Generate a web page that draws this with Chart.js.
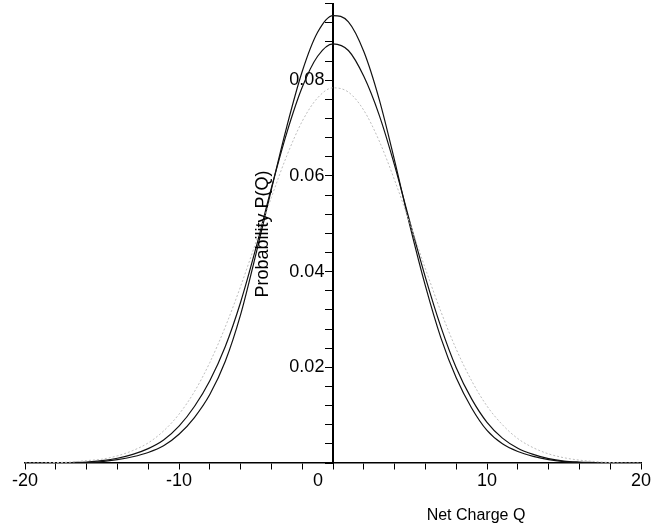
<!DOCTYPE html>
<html>
<head>
<meta charset="utf-8">
<script src="https://cdn.jsdelivr.net/npm/chart.js@4.4.1/dist/chart.umd.min.js"></script>
<style>
  html, body { margin: 0; padding: 0; background: #fff; }
  #wrap { width: 653px; height: 530px; }
</style>
</head>
<body>
<div id="wrap"><canvas id="chart" width="653" height="530"></canvas></div>
<script>
// ── values ───────────────────────────────────────────────────────────────────
const netCharge = [
  -20, -19, -18, -17, -16, -15, -14, -13, -12, -11, -10, -9, -8, -7, -6, -5, -4, -3, -2, -1,
    0,   1,   2,   3,   4,   5,   6,   7,   8,   9,  10, 11, 12, 13, 14, 15, 16, 17, 18, 19, 20,
];
// tallest dark curve
const probNarrow = [
  0, 0, 0, 0, 0.0001, 0.0003, 0.0007, 0.0013, 0.0022, 0.0036, 0.0060, 0.0095, 0.0143, 0.0212, 0.0310, 0.0437, 0.0572, 0.0703, 0.0818, 0.0900,
  0.0935, 0.0922, 0.0860, 0.0760, 0.0632, 0.0495, 0.0370, 0.0262, 0.0178, 0.0115, 0.0068, 0.0040, 0.0024, 0.0014, 0.0007, 0.0003, 0.0001, 0, 0, 0, 0,
];
// second dark curve
const probMid = [
  0, 0, 0, 0.0001, 0.0002, 0.0005, 0.0010, 0.0018, 0.0030, 0.0048, 0.0077, 0.0118, 0.0172, 0.0243, 0.0336, 0.0450, 0.0575, 0.0690, 0.0785, 0.0850,
  0.0876, 0.0862, 0.0808, 0.0727, 0.0622, 0.0503, 0.0388, 0.0285, 0.0199, 0.0134, 0.0085, 0.0052, 0.0031, 0.0018, 0.0009, 0.0004, 0.0002, 0.0001, 0, 0, 0,
];
// faint grey curve
const probWide = [
  0, 0, 0.0001, 0.0002, 0.0005, 0.0008, 0.0015, 0.0026, 0.0042, 0.0067, 0.0102, 0.0149, 0.0210, 0.0284, 0.0369, 0.0462, 0.0555, 0.0642, 0.0714, 0.0763,
  0.0784, 0.0775, 0.0737, 0.0673, 0.0591, 0.0500, 0.0406, 0.0317, 0.0238, 0.0172, 0.0119, 0.0080, 0.0051, 0.0032, 0.0019, 0.0011, 0.0006, 0.0003, 0.0001, 0, 0,
];

const xTickValues = [-20, -10, 0, 10, 20];
const xTickLabels = ["-20", "-10", "0      ", "10", "20"];
const yTickLabels = ["0.02", "0.04", "0.06", "0.08"];

const FONT = "'Liberation Sans', Arial, sans-serif";

// index of a labelled y tick (1..4) or -1
const yMajor = (v) => {
    const k = Math.round(v / 0.02);
    return k > 0 && k <= yTickLabels.length && Math.abs(v - k * 0.02) < 1e-9 ? k : -1;
};

// ── axis titles (the y one reads bottom-to-top) ──────────────────────────────
const axisTitles = {
    id: "axisTitles",
    afterDraw(chart) {
        const ctx = chart.ctx;
        ctx.save();
        ctx.fillStyle = "#000";
        ctx.textAlign = "center";
        ctx.textBaseline = "middle";
        ctx.font = `16px ${FONT}`;
        ctx.fillText("Net Charge Q", 476, 516);
        ctx.translate(263, 234);
        ctx.rotate(-Math.PI / 2);
        ctx.font = `18px ${FONT}`;
        ctx.fillText("Probability P(Q)", 0, 0);
        ctx.restore();
    },
};

const pts = (arr) => netCharge.map((q, i) => ({ x: q, y: arr[i] }));

new Chart(document.getElementById("chart").getContext("2d"), {
    type: "line",
    data: {
        datasets: [
            { data: pts(probWide),   borderColor: "#bdbdbd", borderWidth: 1,   borderDash: [2, 2] },
            { data: pts(probMid),    borderColor: "#111",    borderWidth: 1.2 },
            { data: pts(probNarrow), borderColor: "#111",    borderWidth: 1.2 },
        ],
    },
    options: {
        responsive: false,
        animation: false,
        layout: { padding: { left: 25, right: 12, top: 3, bottom: 67 } },
        elements: { point: { radius: 0 }, line: { cubicInterpolationMode: "monotone", fill: false } },
        plugins: { legend: { display: false }, tooltip: { enabled: false } },
        scales: {
            x: {
                type: "linear",
                position: { y: 0 },
                min: -20,
                max: 20,
                grid: { drawOnChartArea: false, tickLength: 6, tickColor: "#000", tickWidth: 1 },
                border: { color: "#000", width: 1.5 },
                ticks: {
                    stepSize: 2,
                    autoSkip: false,
                    maxRotation: 0,
                    padding: 1,
                    color: "#000",
                    font: { family: FONT, size: 18 },
                    callback: (v) => {
                        const i = xTickValues.indexOf(v);
                        return i >= 0 ? xTickLabels[i] : "";
                    },
                },
            },
            y: {
                type: "linear",
                position: { x: 0 },
                min: 0,
                max: 0.096,
                grid: { drawOnChartArea: false, tickLength: 7, tickColor: "#000", tickWidth: 1 },
                border: { color: "#000", width: 2 },
                ticks: {
                    stepSize: 0.004,
                    autoSkip: false,
                    color: "#000",
                    font: (c) => ({ family: FONT, size: yMajor(c.tick ? c.tick.value : 0) > 0 ? 18 : 1 }),
                    callback: (v) => {
                        const k = yMajor(v);
                        return k > 0 ? yTickLabels[k - 1] + " \u2009" : "";
                    },
                },
            },
        },
    },
    plugins: [axisTitles],
});
</script>
</body>
</html>
